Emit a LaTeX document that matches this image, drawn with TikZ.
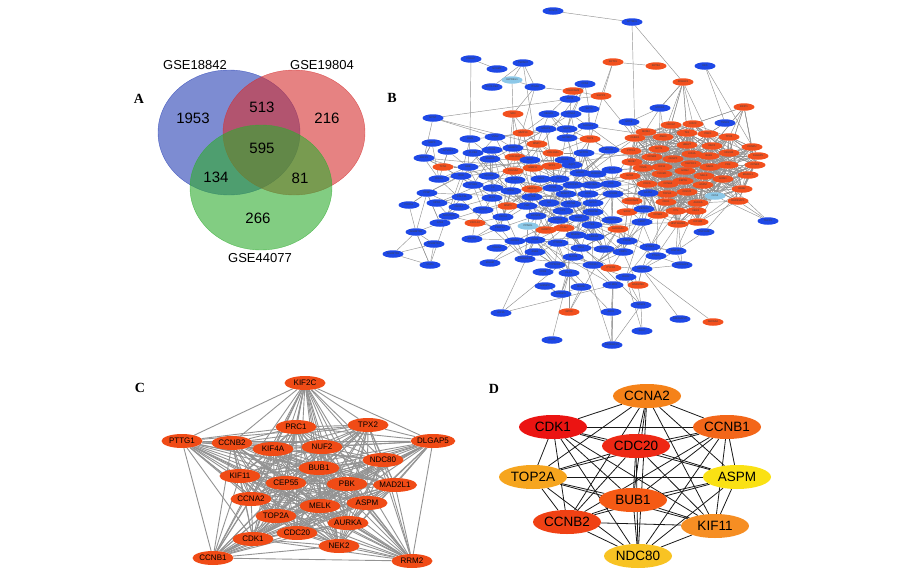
\documentclass[tikz,border=0pt]{standalone}
\usepackage{fontspec}
\setmainfont{Liberation Sans}
\newfontfamily\panelfont{Liberation Serif}
\usetikzlibrary{shapes.geometric}
\pgfdeclarelayer{bg}
\pgfsetlayers{bg,main}

\definecolor{vblue}{RGB}{38,63,180}
\definecolor{vred}{RGB}{213,47,47}
\definecolor{vgreen}{RGB}{47,172,47}
\definecolor{ora}{RGB}{242,80,30}
\definecolor{blu}{RGB}{30,72,230}
\definecolor{lbl}{RGB}{140,200,232}
\definecolor{corange}{RGB}{240,75,22}
\definecolor{rankA}{RGB}{235,20,18}
\definecolor{rankB}{RGB}{238,40,20}
\definecolor{rankC}{RGB}{240,65,20}
\definecolor{rankD}{RGB}{245,90,20}
\definecolor{rankE}{RGB}{243,102,25}
\definecolor{rankF}{RGB}{245,130,25}
\definecolor{rankG}{RGB}{246,142,35}
\definecolor{rankH}{RGB}{246,165,30}
\definecolor{rankI}{RGB}{248,195,35}
\definecolor{rankJ}{RGB}{250,225,20}

\tikzset{
  panel/.style={font=\panelfont\bfseries\fontsize{14}{14}\selectfont},
  setname/.style={font=\fontsize{13}{13}\selectfont},
  venncount/.style={font=\fontsize{15}{15}\selectfont},
  bnode/.style={ellipse,minimum width=21pt,minimum height=7.5pt,inner sep=0pt,
    font=\fontsize{2.6}{3}\selectfont,text=black!75},
  bedge/.style={draw=gray!85,line width=0.45pt},
  cnode/.style={ellipse,fill=corange,minimum width=41pt,minimum height=14pt,
    inner sep=0pt,font=\fontsize{8}{8}\selectfont},
  cedge/.style={draw=gray!85,line width=0.9pt},
  dnode/.style={ellipse,minimum width=68pt,minimum height=24pt,inner sep=0pt,
    font=\fontsize{13.5}{14}\selectfont},
  dedge/.style={draw=black!90,line width=0.8pt},
}

\begin{document}
\begin{tikzpicture}[x=1pt,y=-1pt]
\useasboundingbox (0,0) rectangle (919,581);

% A: venn
\draw[draw=vblue,fill=vblue,fill opacity=0.6,draw opacity=0.7] (229,132.5) ellipse [x radius=71pt,y radius=62.5pt];
\draw[draw=vred,fill=vred,fill opacity=0.6,draw opacity=0.7] (294,132.5) ellipse [x radius=71pt,y radius=62.5pt];
\draw[draw=vgreen,fill=vgreen,fill opacity=0.6,draw opacity=0.7] (261,187.5) ellipse [x radius=71pt,y radius=62.5pt];
\node[panel] (labA) at (139,99) {A};
\node[setname] (s1) at (195,65) {GSE18842};
\node[setname] (s2) at (322,65) {GSE19804};
\node[setname] (s3) at (260,258) {GSE44077};
\node[venncount] (n1) at (193,118) {1953};
\node[venncount] (n2) at (262,107) {513};
\node[venncount] (n3) at (327,118) {216};
\node[venncount] (n4) at (262,148) {595};
\node[venncount] (n5) at (216,177) {134};
\node[venncount] (n6) at (300,178) {81};
\node[venncount] (n7) at (258,218) {266};

% B: full network
\node[panel] (labB) at (392,98) {B};
\foreach \x/\y/\t/\c [count=\i] in {
  683/82/KDELR3/ora, 744/107/BRIP1/ora, 671/125/CDCA7/ora, 693/124/KIF2C/ora,
  646/132/MCM4/ora, 635/138/CHEK1/ora, 663/137/ANLN/ora, 687/133/TK1/ora,
  708/134/PRC1/ora, 729/137/TPX2/ora, 752/147/CENPU/ora, 631/151/PTTG1/ora,
  659/149/ECT2/ora, 687/145/UBE2T/ora, 712/146/NUF2/ora, 729/153/NDC80/ora,
  758/156/DLGAP5/ora, 652/157/CCNB2/ora, 673/159/CENPF/ora, 692/154/KIF4A/ora,
  709/156/BUB1/ora, 632/162/MKI67/ora, 643/168/TYMS/ora, 662/167/KIF11/ora,
  691/164/DEPDC1/ora, 710/167/MND1/ora, 728/165/PBK/ora, 755/165/CCNE2/ora,
  630/176/EZH2/ora, 662/174/FOXM1/ora, 685/171/GINS2/ora, 704/176/MELK/ora,
  723/179/GINS1/ora, 748/175/MAD2L1/ora, 647/184/CDC6/ora, 668/184/CCNA2/ora,
  683/181/CEP55/ora, 703/185/ASPM/ora, 667/194/TOP2A/ora, 687/192/CDC20/ora,
  742/189/RRM2/ora, 666/202/CDK1/ora, 698/203/AURKA/ora, 738/201/RAD51AP1/ora,
  658/215/CCNB1/ora, 676/211/DTL/ora, 696/211/NEK2/ora, 678/224/HIST1H2BH/ora,
  698/222/KIF18B/ora, 715/196/CKS2/lbl,
  553/11/SCN7A/blu, 632/22/SPTBN1/blu, 613/62/KRT15/ora, 656/66/KRT6A/ora,
  705/66/DES/blu, 725/123/TNNC1/blu, 471/59/PRELP/blu, 523/63/TSPAN7/blu,
  497/69/NCAM1/blu, 512/80/LEPREL1/lbl, 492/87/PCOLCE2/blu, 535/87/ITGA8/blu,
  585/84/CD52/blu, 573/91/CEACAM6/ora, 601/96/SGPP2/ora, 570/99/ART4/blu,
  589/109/SLIT3/blu, 660/108/MYH10/blu, 433/118/NPNT/blu, 513/114/SFN/ora,
  549/114/NEGR1/blu, 571/114/NTNG1/blu, 629/122/MYL9/blu, 588/126/SH3GL3/blu,
  546/129/MFAP4/blu, 495/137/VNN2/blu, 470/139/OGN/blu, 523/133/MMP10/ora,
  567/129/SRPX/blu, 567/138/GLT8D2/blu, 590/139/TRY6/ora, 432/143/SMPX/blu,
  448/151/ACVRL1/blu, 473/153/PLCB4/blu, 492/150/CD34/blu, 513/148/RAMP3/blu,
  537/144/MMP7/ora, 553/153/COL10A1/ora, 565/160/RECK/blu, 584/153/SFTPD/blu,
  609/150/MYH11/blu, 424/158/RXFP1/blu, 443/167/TCN1/ora, 468/167/HBB/blu,
  490/159/SMAD6/blu, 515/157/COL11A1/ora, 530/160/SELP/blu, 533/168/MMP11/ora,
  552/166/SPP1/ora, 572/165/AQP1/blu, 612/170/KLF4/blu, 439/179/CDH11/blu,
  461/176/IFI30/blu, 489/176/S100A8/blu, 513/171/COL5A2/ora, 515/180/FLOT1/blu,
  541/179/CAV1/blu, 559/179/CFD/blu, 580/173/LRRK2/blu, 596/174/ROBO4/blu,
  473/185/EPHB1/blu, 493/188/F8/blu, 532/189/MMP13/ora, 553/188/FPR1/blu,
  573/185/CX3CR1/blu, 592/185/PECAM1/blu, 611/184/FOS/blu, 427/193/PPBP/blu,
  462/197/CALCRL/blu, 492/198/DLK1/blu, 511/191/WFS1/blu, 532/197/CYBB/blu,
  566/194/ANGPT1/blu, 588/194/KDR/blu, 613/194/ACER2/blu, 648/193/GATA2/blu,
  409/205/PROS1/blu, 437/203/NPR1/blu, 459/207/CHI3L1/blu, 508/206/MMP1/ora,
  527/206/VWF/blu, 549/203/IL6/blu, 571/204/AGTR2/blu, 593/203/GPC3/blu,
  632/201/CEACAM5/ora, 449/216/NOSTRIN/blu, 483/210/SOX17/blu, 503/217/CXCL2/blu,
  536/216/EDNRB/blu, 563/211/LPL/blu, 593/212/PPAP2B/blu, 627/212/SOX2/ora,
  644/209/ZBTB16/blu, 768/221/TACC1/blu, 440/223/FZD4/blu, 475/223/CXCL13/ora,
  500/228/P2RY14/blu, 528/226/PPARG/lbl, 546/230/IGFBP3/ora, 564/228/PLAU/ora,
  558/220/EPHA2/blu, 579/218/EGR1/blu, 592/225/TEK/blu, 612/220/STARD13/blu,
  618/229/ALDH1A1/ora, 642/222/LMO7/blu, 704/232/RNF144B/blu, 416/232/ADAMTS8/blu,
  472/239/AGTR1/blu, 515/241/ARRB1/blu, 535/240/CD36/blu, 558/243/PTPRB/blu,
  576/235/MMRN1/blu, 594/237/HBEGF/blu, 434/244/ADAMTS1/blu, 393/254/ADAMTS9/blu,
  627/241/FOSB/blu, 650/247/SYNE1/blu, 676/251/RNF150/blu, 497/248/PDE5A/blu,
  535/252/ASB1/blu, 581/248/TNS1/blu, 604/249/SFTPC/blu, 623/252/CRIP1/blu,
  656/256/PTGIS/blu, 490/263/MGAM/blu, 525/259/PPARGC1A/blu, 573/257/ALOX5/blu,
  555/265/PIP5K1B/blu, 593/265/PRKCH/blu, 611/268/PYCR1/ora, 642/269/HECW2/blu,
  682/265/ARHGAP6/blu, 430/265/SSPN/blu, 543/272/CD93/blu, 569/273/DLC1/blu,
  626/277/RHOJ/blu, 545/286/GIMAP8/blu, 581/287/MAOB/blu, 613/285/ELMO1/blu,
  638/285/HSD17B6/ora, 561/294/GIMAP6/blu, 641/305/WASF3/blu, 501/313/HIF3A/blu,
  569/312/GPX3/ora, 611/312/AOX1/blu, 680/319/ARHGAP20/blu, 713/322/SRD5A2/ora,
  642/331/SOX7/blu, 552/340/AGRP/blu, 612/345/ARHGEF15/blu}
  {\node[bnode,fill=\c,alias=b-\t] (b\i) at (\x,\y) {\t};
   \xdef\nb{\i}}

\begin{pgfonlayer}{bg}
  \draw[bedge] (b-SCN7A) -- (b-SPTBN1) -- (b-KDELR3);
  \draw[bedge] (b-KRT15) -- (b-KRT6A);
  \draw[bedge] (b-DES) -- (b-TNNC1);
  \draw[bedge] (b-BRIP1) -- (b-KIF2C);
  \draw[bedge] (b-KDELR3) -- (b-CDCA7);
  \draw[bedge] (b-KDELR3) -- (b-TK1);
  \draw[bedge] (b-KDELR3) -- (b-KIF2C);
  \draw[bedge] (b-PRELP) -- (b-OGN);
  \draw[bedge] (b-TSPAN7) -- (b-ITGA8);
  \draw[bedge] (b-LEPREL1) -- (b-SFN);
  \draw[bedge] (b-NPNT) -- (b-ART4);
  \draw[bedge] (b-MYH10) -- (b-MYL9);
  \draw[bedge] (b-CKS2) -- (b-TACC1);
  \draw[bedge] (b-ADAMTS8) -- (b-ADAMTS1) -- (b-SSPN) -- (b-ADAMTS9) -- (b-ADAMTS8);
  \draw[bedge] (b-ADAMTS8) -- (b-SSPN);
  \draw[bedge] (b-ADAMTS9) -- (b-ADAMTS1);
  \draw[bedge] (b-SRD5A2) -- (b-HECW2);
  \draw[bedge] (b-ARHGAP20) -- (b-HECW2);
  \draw[bedge] (b-HIF3A) -- (b-CD36);
  \draw[bedge] (b-AGRP) -- (b-DLC1);
  \draw[bedge] (b-ARHGEF15) -- (b-ELMO1);
  \draw[bedge] (b-SOX7) -- (b-RHOJ);
  \draw[bedge] (b-GPX3) -- (b-MAOB);
  \draw[bedge] (b-WASF3) -- (b-RHOJ);
  \draw[bedge] (b-AOX1) -- (b-ELMO1);
  % the mesh
  \pgfmathsetseed{1729}
  \foreach \n/\lo/\hi/\dmax in {1400/1/50/6, 6000/1/\nb/4.2, 350/1/\nb/12}
    \foreach \k in {1,...,\n}{
      \pgfmathtruncatemacro\ia{random(\lo,\hi)}
      \pgfmathtruncatemacro\ib{random(\lo,\hi)}
      \pgfpointdiff{\pgfpointanchor{b\ia}{center}}{\pgfpointanchor{b\ib}{center}}
      \pgfgetlastxy{\dx}{\dy}
      \pgfmathtruncatemacro\ok{(veclen(\dx/10,\dy/10)<\dmax) && (\ia!=\ib)}
      \ifnum\ok=1 \draw[bedge] (b\ia) -- (b\ib);\fi
    }
\end{pgfonlayer}

% C: hub genes
\node[panel] (labC) at (140,388) {C};
\def\cgenes{KIF2C,PRC1,TPX2,PTTG1,CCNB2,KIF4A,NUF2,DLGAP5,NDC80,BUB1,KIF11,CEP55,
  PBK,MAD2L1,CCNA2,MELK,ASPM,TOP2A,AURKA,CDK1,CDC20,NEK2,CCNB1,RRM2}
\foreach \x/\y/\t in {305/383/KIF2C, 296/427/PRC1, 368/425/TPX2, 182/441/PTTG1,
  232/443/CCNB2, 273/449/KIF4A, 322/447/NUF2, 433/441/DLGAP5, 383/460/NDC80,
  319/468/BUB1, 240/476/KIF11, 286/483/CEP55, 347/484/PBK, 395/485/MAD2L1,
  251/499/CCNA2, 320/506/MELK, 367/503/ASPM, 276/516/TOP2A, 348/523/AURKA,
  253/539/CDK1, 297/533/CDC20, 339/546/NEK2, 213/558/CCNB1, 412/561/RRM2}
  \node[cnode] (c-\t) at (\x,\y) {\t};
\begin{pgfonlayer}{bg}
  \foreach \a [count=\i] in \cgenes
    \foreach \b [count=\j] in \cgenes
      {\ifnum\i<\j \draw[cedge] (c-\a) -- (c-\b);\fi}
\end{pgfonlayer}

% D: top ten
\node[panel] (labD) at (494,389) {D};
\def\dgenes{CCNA2,CDK1,CCNB1,CDC20,TOP2A,ASPM,BUB1,CCNB2,KIF11,NDC80}
\foreach \x/\y/\t/\c in {647/396/CCNA2/rankF, 553/427/CDK1/rankA,
  727/427/CCNB1/rankE, 636/446/CDC20/rankB, 533/477/TOP2A/rankH,
  737/477/ASPM/rankJ, 633/500/BUB1/rankD, 567/522/CCNB2/rankC,
  715/526/KIF11/rankG, 638/556/NDC80/rankI}
  \node[dnode,fill=\c] (d-\t) at (\x,\y) {\t};
\begin{pgfonlayer}{bg}
  \foreach \a [count=\i] in \dgenes
    \foreach \b [count=\j] in \dgenes
      {\ifnum\i<\j \draw[dedge] (d-\a) -- (d-\b);\fi}
\end{pgfonlayer}
\end{tikzpicture}
\end{document}
